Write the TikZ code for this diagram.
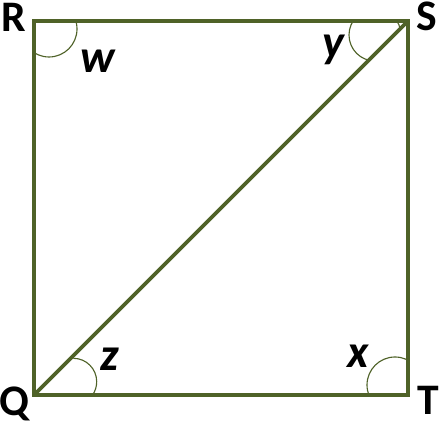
\documentclass[tikz,border=0pt]{standalone}
\usepackage{fontspec}
\setmainfont{Carlito}
\definecolor{sidegreen}{RGB}{79,98,40}

\begin{document}
\begin{tikzpicture}[x=0.025cm,y=0.025cm,
  side/.style={draw=sidegreen,line width=2.7pt},
  anglearc/.style={draw=sidegreen,line width=0.8pt},
  vertex/.style={font=\fontsize{31}{37}\selectfont\bfseries,inner sep=0pt},
  anglename/.style={font=\fontsize{33}{40}\selectfont\bfseries\itshape,inner sep=0pt}]
\useasboundingbox (0,0) rectangle (441,425);
% Corners of the square
\coordinate (R) at (34,404);
\coordinate (S) at (408,404);
\coordinate (T) at (408,30);
\coordinate (Q) at (34,30);
% Angle marks
\begin{scope}
\clip (Q) rectangle (S);
\draw[anglearc] (49,396) circle (28);
\draw[anglearc] (395,40) circle (28);
\end{scope}
\begin{scope}
\clip (R) -- (S) -- (Q) -- cycle;
\draw[anglearc] (375,390) circle (26);
\end{scope}
\draw[anglearc] (73.3,66.7) arc[start angle=90,end angle=-34.6,radius=23.4];
% Draw the square and its diagonal
\draw[side] (R) -- (S) -- (T) -- (Q) -- cycle;
\draw[side] (Q) -- (S);
% Labels
\node[vertex] (labR) at (14,408) {R};
\node[vertex] (labS) at (426.5,408.5) {S};
\node[vertex] (labT) at (428,25) {T};
\node[vertex] (labQ) at (14.5,21.5) {Q};
\node[anglename] (labw) at (97.5,364) {w};
\node[anglename] (laby) at (333,375) {y};
\node[anglename] (labz) at (110,66) {z};
\node[anglename] (labx) at (358.5,68.5) {x};
\end{tikzpicture}
\end{document}
